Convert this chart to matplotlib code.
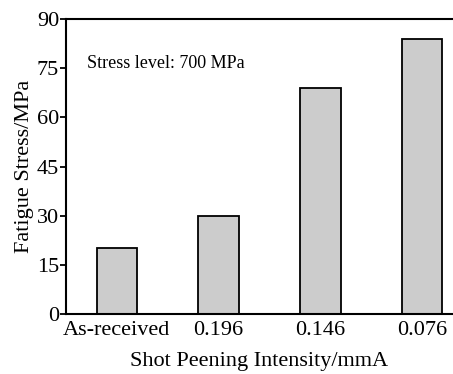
import matplotlib
matplotlib.use("Agg")
import matplotlib.pyplot as plt

# fatigue stress for each shot peening condition
categories = ["As-received", "0.196", "0.146", "0.076"]
fatigue_stress = [20, 30, 69, 84]
yticks = [0, 15, 30, 45, 60, 75, 90]

plt.rcParams['font.family'] = ['Liberation Serif', 'DejaVu Serif']

fig = plt.figure(figsize=(4.53, 3.74), dpi=100)
ax = fig.add_axes([0.1457, 0.1604, 0.8543, 0.7886])

x = list(range(len(categories)))
ax.bar(x, fatigue_stress, width=0.4, color="#cccccc", edgecolor="black", linewidth=1.3)

ax.set_xlim(-0.5, 3.305)
ax.set_ylim(0, 90)
ax.set_yticks(yticks)
ax.set_xticks(x)
ax.set_xticklabels(categories)
ax.tick_params(axis='y', direction='out', length=4, width=1.3, labelsize=16, pad=1)
ax.tick_params(axis='x', length=0, labelsize=16, pad=5)

for side in ['left', 'bottom', 'top']:
    ax.spines[side].set_linewidth(1.5)
ax.spines['right'].set_visible(False)

ax.set_xlabel("Shot Peening Intensity/mmA", fontsize=16, labelpad=9)
ax.set_ylabel("Fatigue Stress/MPa", fontsize=16, labelpad=2)

ax.text(0.055, 0.835, "Stress level: 700 MPa", transform=ax.transAxes, fontsize=13)

fig.savefig("out.png", dpi=100)
